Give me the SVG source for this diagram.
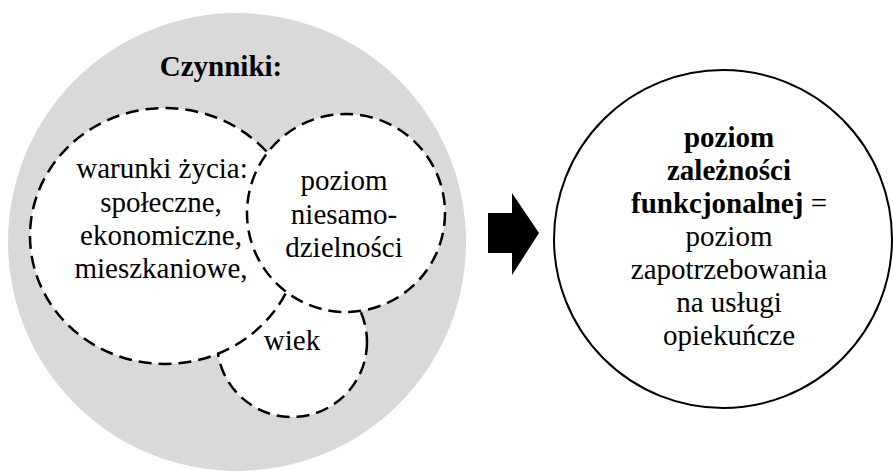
<svg xmlns="http://www.w3.org/2000/svg" width="893" height="471" viewBox="0 0 893 471">
  <style>
    .dash { fill: #fff; stroke: #000; stroke-width: 2.5; stroke-dasharray: 13 7; }
  </style>
  <rect width="893" height="471" fill="#fff"/>
  <g id="factors">
    <circle cx="237" cy="242" r="229" fill="#d9d9d9"/>
    <text x="221" y="76" font-family="Liberation Serif" font-size="29" font-weight="bold" text-anchor="middle">Czynniki:</text>
  </g>
  <g id="wiek">
    <circle class="dash" cx="292" cy="342" r="75"/>
    <text x="292" y="350" font-family="Liberation Serif" font-size="29" text-anchor="middle">wiek</text>
  </g>
  <g id="warunki">
    <ellipse class="dash" cx="165" cy="236" rx="135" ry="128"/>
    <text x="162" y="178" font-family="Liberation Serif" font-size="29" text-anchor="middle">warunki &#380;ycia:</text>
    <text x="161" y="212" font-family="Liberation Serif" font-size="29" text-anchor="middle">spo&#322;eczne,</text>
    <text x="161" y="245" font-family="Liberation Serif" font-size="29" text-anchor="middle">ekonomiczne,</text>
    <text x="161" y="278" font-family="Liberation Serif" font-size="29" text-anchor="middle">mieszkaniowe,</text>
  </g>
  <g id="niesamodzielnosc">
    <circle class="dash" cx="346" cy="213" r="99"/>
    <text x="344" y="190" font-family="Liberation Serif" font-size="29" text-anchor="middle">poziom</text>
    <text x="344" y="224" font-family="Liberation Serif" font-size="29" text-anchor="middle">niesamo-</text>
    <text x="344" y="257" font-family="Liberation Serif" font-size="29" text-anchor="middle">dzielno&#347;ci</text>
  </g>
  <g id="connectors">
    <polygon points="488,213 512,213 512,193 539,233 512,275 512,253 488,253" fill="#000"/>
  </g>
  <g id="zaleznosc">
    <circle cx="723" cy="239" r="169" fill="#fff" stroke="#000" stroke-width="2"/>
    <text x="729" y="147" font-family="Liberation Serif" font-size="29" font-weight="bold" text-anchor="middle">poziom</text>
    <text x="729" y="180" font-family="Liberation Serif" font-size="29" font-weight="bold" text-anchor="middle">zale&#380;no&#347;ci</text>
    <text x="729" y="213" font-family="Liberation Serif" font-size="29" text-anchor="middle"><tspan font-weight="bold">funkcjonalnej</tspan> =</text>
    <text x="729" y="246" font-family="Liberation Serif" font-size="29" text-anchor="middle">poziom</text>
    <text x="729" y="279" font-family="Liberation Serif" font-size="29" text-anchor="middle">zapotrzebowania</text>
    <text x="729" y="312" font-family="Liberation Serif" font-size="29" text-anchor="middle">na us&#322;ugi</text>
    <text x="729" y="345" font-family="Liberation Serif" font-size="29" text-anchor="middle">opieku&#324;cze</text>
  </g>
</svg>
